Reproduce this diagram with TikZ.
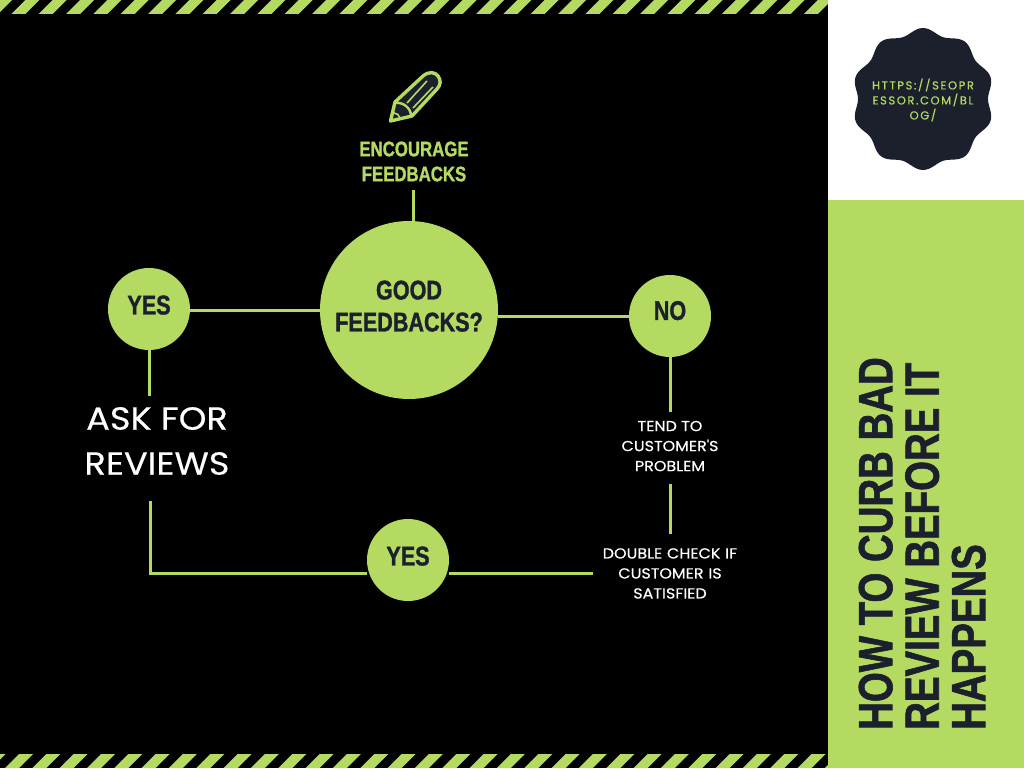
\documentclass[tikz,border=0pt]{standalone}
\usepackage{fontspec}
\setmainfont[FakeStretch=1.1,FakeBold=0.4]{Poppins}
\newfontfamily\headfont[FakeStretch=0.80,FakeBold=1.2]{Liberation Sans Bold}
\newfontfamily\urlfont[LetterSpace=14,FakeBold=0.5]{Poppins}
\definecolor{lime}{HTML}{B4DA62}
\definecolor{ink}{HTML}{1B202C}

\begin{document}
\begin{tikzpicture}[x=1pt,y=-1pt,
every node/.style={inner sep=0pt, align=center},
circ/.style={circle, fill=lime, text=ink, text depth=8pt, font=\headfont\fontsize{27}{32}\selectfont},
plain/.style={text=white, font=\fontsize{14.5}{20}\selectfont},
link/.style={draw=lime, line width=3pt}
]
\useasboundingbox (0,0) rectangle (1024,768);
\fill[black] (0,0) rectangle (828,768);
\fill[white] (828,0) rectangle (1024,200);
\fill[lime] (828,200) rectangle (1024,768);

% hazard bars
\begin{scope}
\clip (0,0) rectangle (828,768);
\foreach \i in {-1,...,30}{
    \fill[lime] (\i*27.33+25.4,0) -- ++(14,0) -- ++(-14,14) -- ++(-14,0) -- cycle;
    \fill[lime] (\i*27.33+19,754) -- ++(14,0) -- ++(-14,14) -- ++(-14,0) -- cycle;
}
\end{scope}

% badge
\begin{scope}[shift={(923,99)}]
\fill[ink] plot[domain=0:360, samples=160, smooth] (\x:{68+3*cos(10*(\x-18))}) -- cycle;
\end{scope}
\node[text=lime, font=\urlfont\fontsize{11.5}{15}\selectfont] (url) at (923,100) {HTTPS://SEOPR\\ESSOR.COM/BL\\OG/};

% pencil
\filldraw[fill=ink, draw=lime, line width=3.4pt, line join=round]
    (390.5,121) -- (395,102) -- (423,76) .. controls (429,71) and (435,72) .. (438,76)
    .. controls (441,80) and (441,85) .. (437,89) -- (412,116) -- cycle;
\draw[lime, line width=2.4pt] (396,103) .. controls (403,102) and (411,108) .. (411,116);
\draw[lime, line width=1.6pt] (407,103) -- (427,81) (413,108) -- (433,87);
\draw[lime, line width=1.6pt] (394,113) .. controls (397,113) and (399,115) .. (400,118);

\node[text=lime, font=\headfont\fontsize{21}{25}\selectfont] (encourage) at (414,161.5) {ENCOURAGE\\FEEDBACKS};

\coordinate (encourageout) at (413,190);
\coordinate (askin) at (149,396);
\coordinate (askout) at (150,501);

\node[circ, minimum size=178pt] (good) at (409,310) {GOOD\\FEEDBACKS?};
\node[circ, minimum size=82pt] (yesa) at (149,309) {YES};
\node[circ, minimum size=82pt, text depth=11pt] (no) at (670,316) {NO};
\node[circ, minimum size=82pt] (yesb) at (408,560) {YES};

\node[text=white, font=\fontsize{32}{45}\selectfont] (ask) at (157,441) {ASK FOR\\REVIEWS};
\node[plain, minimum height=72pt, text depth=4pt] (tend) at (670,448) {TEND TO\\CUSTOMER\textquotesingle S\\PROBLEM};
\node[plain, minimum height=78pt, text width=154pt] (double) at (670,573.4) {DOUBLE CHECK IF\\CUSTOMER IS\\SATISFIED};

\node[rotate=90, anchor=north west, align=left, text=ink, font=\headfont\fontsize{48}{46.5}\selectfont] (title) at (858.5,730) {HOW TO CURB BAD\\REVIEW BEFORE IT\\HAPPENS};

% connectors go under the circles
\begin{scope}
\foreach \i/\j in {no/tend.north, tend.south/double.north}
    \draw[link] (\i) -- (\j);
\end{scope}
\draw[link] (encourageout) -- (good.north -| encourageout);
\draw[link] (good.west) -- (good.west -| yesa.east);
\draw[link] (no.west) -- (no.west -| good.east);
\draw[link] (yesa.south) -- (askin);
\draw[link] (askout) |- (yesb.west |- double.west);
\draw[link] (yesb.east |- double.west) -- (double.west);
\end{tikzpicture}
\end{document}
